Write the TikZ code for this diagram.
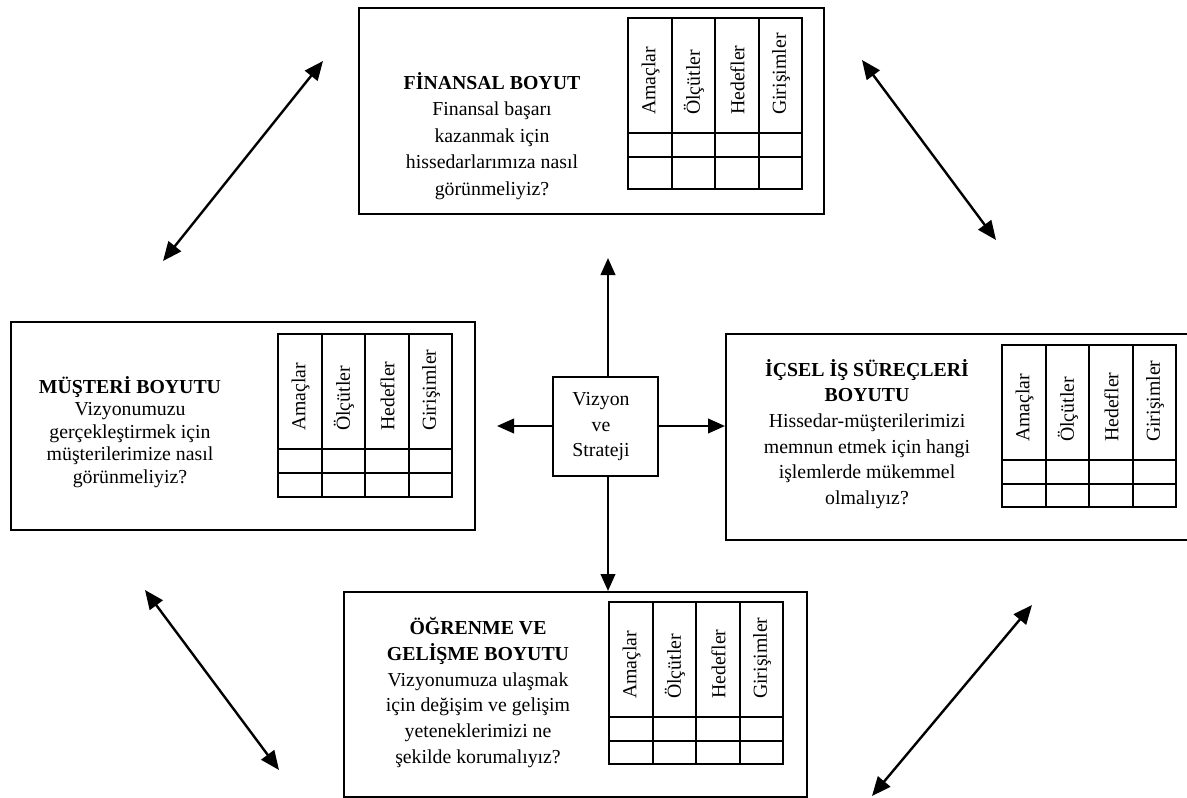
\documentclass[tikz,border=0pt]{standalone}
\usepackage{fontspec}
\setmainfont{Liberation Serif}
\usetikzlibrary{arrows.meta,calc}

\tikzset{
  box/.style={draw, line width=1.8pt, inner sep=0pt, anchor=north west},
  tbl/.style={line width=2pt},
  twoarr/.style={line width=2.4pt, {Triangle[length=19pt,width=16pt]}-{Triangle[length=19pt,width=16pt]}},
  onearr/.style={line width=2.4pt, -{Triangle[length=17pt,width=14.5pt]}},
  body/.style={align=center, inner sep=0pt, font=\fontsize{19.8}{#1}\selectfont},
  hdr/.style={rotate=90, anchor=west, inner sep=0pt, font=\fontsize{19.8}{24}\selectfont},
}

% #1 name prefix, #2 x left, #3 y top, #4 last row height
\newcommand\bsctab[4]{%
  \begin{scope}[shift={(#2,#3)}]
    \draw[tbl] (0,0) rectangle (174,{138.5+#4});
    \foreach \i in {1,2,3} \draw[tbl] ({43.5*\i},0) -- ({43.5*\i},{138.5+#4});
    \draw[tbl] (0,115) -- (174,115);
    \draw[tbl] (0,138.5) -- (174,138.5);
    \node[hdr] (#1a) at (22.5,97) {Amaçlar};
    \node[hdr] (#1b) at (66,97) {Ölçütler};
    \node[hdr] (#1c) at (109.5,97) {Hedefler};
    \node[hdr] (#1d) at (153,97) {Girişimler};
  \end{scope}}

\begin{document}
\begin{tikzpicture}[x=1pt,y=-1pt]
\useasboundingbox (0,0) rectangle (1187,798);
\clip (0,0) rectangle (1187,798);

% boxes
\node[box, minimum width=465pt, minimum height=206pt] (F) at (358,7) {};
\node[box, minimum width=464pt, minimum height=208pt] (M) at (10,321) {};
\node[box, minimum width=465pt, minimum height=206pt] (I) at (725,333) {};
\node[box, minimum width=463pt, minimum height=205pt] (O) at (343,591) {};
\node[box, minimum width=105pt, minimum height=99pt] (V) at (552,376) {};
\node[body=25.5] (Vt) at (601,427) {Vizyon\\ve\\Strateji};

% tables
\bsctab{F}{628}{18}{32}
\bsctab{M}{278}{334}{24}
\bsctab{I}{1002}{345}{23}
\bsctab{O}{609}{602}{23}

% texts
\node[body=26.5] (Ft) at (492,136) {\textbf{FİNANSAL BOYUT}\\Finansal başarı\\kazanmak için\\hissedarlarımıza nasıl\\görünmeliyiz?};
\node[body=22.5] (Mt) at (130,432) {\textbf{MÜŞTERİ BOYUTU}\\Vizyonumuzu\\gerçekleştirmek için\\müşterilerimize nasıl\\görünmeliyiz?};
\node[body=25.6] (It) at (867,434) {\textbf{İÇSEL İŞ SÜREÇLERİ}\\\textbf{BOYUTU}\\Hissedar-müşterilerimizi\\memnun etmek için hangi\\işlemlerde mükemmel\\olmalıyız?};
\node[body=25.8] (Ot) at (478,692.5) {\textbf{ÖĞRENME VE}\\\textbf{GELİŞME BOYUTU}\\Vizyonumuza ulaşmak\\için değişim ve gelişim\\yeteneklerimizi ne\\şekilde korumalıyız?};

% central arrows
\coordinate (upTip) at (608,258);
\coordinate (leftTip) at (497,426);
\draw[onearr] (V.north -| upTip) -- (upTip);
\draw[onearr] (V.south -| upTip) -- (O.north -| upTip);
\draw[onearr] (V.west |- leftTip) -- (leftTip);
\draw[onearr] (V.east |- leftTip) -- (I.west |- leftTip);

% diagonal arrows
\coordinate (d1a) at (163,261); \coordinate (d1b) at (323,61);
\coordinate (d2a) at (862,60);  \coordinate (d2b) at (996,240);
\coordinate (d3a) at (145,590); \coordinate (d3b) at (279,770);
\coordinate (d4a) at (872,796); \coordinate (d4b) at (1032,605);
\draw[twoarr] (d1a) -- (d1b);
\draw[twoarr] (d2a) -- (d2b);
\draw[twoarr] (d3a) -- (d3b);
\draw[twoarr] (d4a) -- (d4b);
\end{tikzpicture}
\end{document}
